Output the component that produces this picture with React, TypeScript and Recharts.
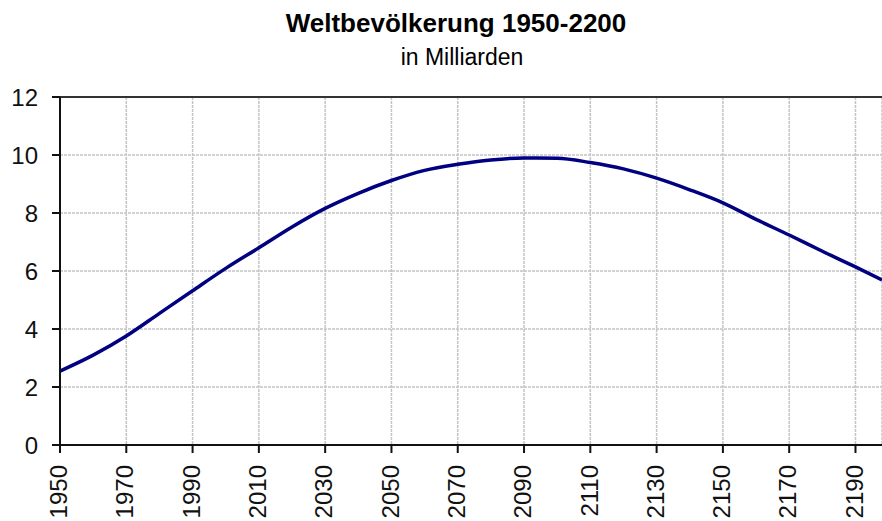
import { LineChart, Line, XAxis, YAxis, CartesianGrid, ReferenceLine } from 'recharts';

const years = [1950, 1960, 1970, 1980, 1990, 2000, 2010, 2020, 2030, 2040, 2050, 2060, 2070, 2080, 2090, 2100, 2110, 2120, 2130, 2140, 2150, 2160, 2170, 2180, 2190, 2198];
const population = [2.55, 3.1, 3.76, 4.54, 5.32, 6.09, 6.8, 7.52, 8.16, 8.68, 9.12, 9.47, 9.68, 9.83, 9.9, 9.89, 9.74, 9.52, 9.2, 8.8, 8.35, 7.78, 7.24, 6.68, 6.14, 5.69];
const xTicks = [1950, 1970, 1990, 2010, 2030, 2050, 2070, 2090, 2110, 2130, 2150, 2170, 2190];
const yTicks = [0, 2, 4, 6, 8, 10, 12];

const data = years.map((year, i) => ({ year, value: population[i] }));

const font = '"Liberation Sans", Arial, sans-serif';

function XTick({ x, y, payload }: any) {
  return (
    <text
      x={x}
      y={y}
      transform={`rotate(-90, ${x}, ${y})`}
      textAnchor="end"
      dy="0.3em"
      fontSize={24}
      fontFamily={font}
      fill="#111"
    >
      {payload.value}
    </text>
  );
}

export default function App() {
  return (
    <div style={{ position: 'absolute', left: 0, top: 0, width: 882, height: 521, background: 'white', fontFamily: font }}>
      <svg width={882} height={80} style={{ position: 'absolute', left: 0, top: 0 }}>
        <text x={456} y={32} textAnchor="middle" fontSize={26} fontWeight="bold" fontFamily={font} fill="#000">
          Weltbevölkerung 1950-2200
        </text>
        <text x={462} y={65} textAnchor="middle" fontSize={23} fontFamily={font} fill="#000">
          in Milliarden
        </text>
      </svg>
      <LineChart
        width={882}
        height={521}
        data={data}
        margin={{ top: 97, right: 0, bottom: 0, left: 0 }}
        style={{ position: 'absolute', left: 0, top: 0 }}
      >
        <CartesianGrid stroke="#c4c4c4" strokeDasharray="3 1" strokeWidth={1.5} />
        <XAxis
          dataKey="year"
          type="number"
          domain={[1950, 2198]}
          ticks={xTicks}
          interval={0}
          height={76}
          tickSize={8}
          tickMargin={12}
          tick={<XTick />}
          axisLine={{ stroke: '#111', strokeWidth: 2 }}
          tickLine={{ stroke: '#111', strokeWidth: 2 }}
        />
        <YAxis
          type="number"
          domain={[0, 12]}
          ticks={yTicks}
          interval={0}
          width={60}
          tickSize={8}
          tickMargin={14}
          tick={{ fontSize: 24, fontFamily: font, fill: '#111' }}
          axisLine={{ stroke: '#111', strokeWidth: 2 }}
          tickLine={{ stroke: '#111', strokeWidth: 2 }}
        />
        <ReferenceLine y={12} stroke="#333" strokeWidth={2} />
        <Line
          type="monotone"
          dataKey="value"
          stroke="#000080"
          strokeWidth={3.5}
          dot={false}
          isAnimationActive={false}
        />
      </LineChart>
    </div>
  );
}
